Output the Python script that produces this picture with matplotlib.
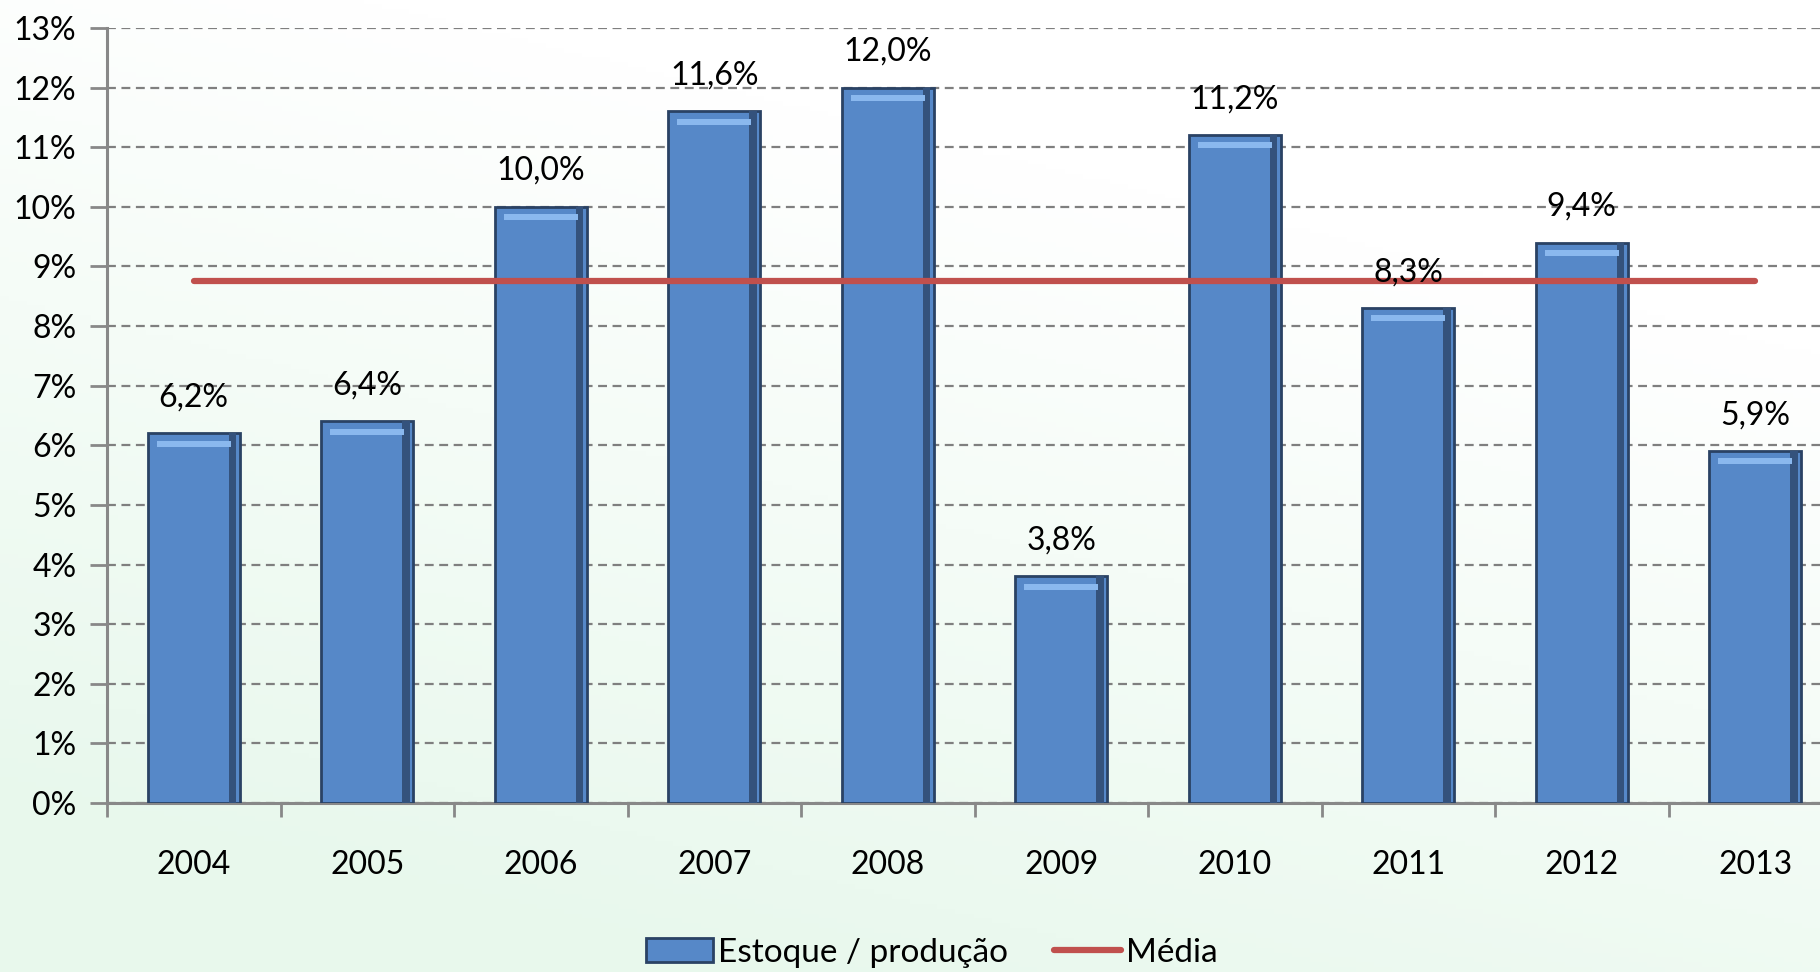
import matplotlib.pyplot as plt
import numpy as np

anos = ['2004', '2005', '2006', '2007', '2008', '2009', '2010', '2011', '2012', '2013']
estoque = [6.2, 6.4, 10.0, 11.6, 12.0, 3.8, 11.2, 8.3, 9.4, 5.9]
media = [8.75] * len(anos)
rotulos = ['6,2%', '6,4%', '10,0%', '11,6%', '12,0%', '3,8%', '11,2%', '8,3%', '9,4%', '5,9%']

plt.rcParams['font.family'] = ['Lato', 'DejaVu Sans']

fig = plt.figure(figsize=(18.2, 9.72), dpi=100)

# soft green background
bg = fig.add_axes([0, 0, 1, 1], zorder=-10)
gy, gx = np.mgrid[0:1:200j, 0:1:200j]
tint = np.clip(1.1 * gy - 0.5 * gx + 0.1, 0, 1) * 0.9
img = np.ones((200, 200, 3))
img[..., 0] = 1 - 0.10 * tint
img[..., 1] = 1 - 0.03 * tint
img[..., 2] = 1 - 0.08 * tint
bg.imshow(img, extent=[0, 1, 0, 1], aspect='auto', origin='upper')
bg.axis('off')

ax = fig.add_axes([107 / 1820, 1 - 803 / 972, 1735 / 1820, (803 - 28) / 972])
ax.patch.set_alpha(0)

x = np.arange(len(anos))
w = 0.53
ax.bar(x, estoque, width=w, color='#5688c8', edgecolor='#2a4264', linewidth=2, zorder=3)
# bevel: darker right side and light band under the top
ax.bar(x + w * 0.42, estoque, width=w * 0.08, color='#34527c', linewidth=0, zorder=4)
ax.bar(x, [0.1] * len(x), bottom=np.array(estoque) - 0.22, width=w * 0.8,
       color='#8ab8ee', linewidth=0, zorder=4)
ax.plot(x, media, color='#c0504d', linewidth=4.5, solid_capstyle='round', zorder=5)

for i, v in enumerate(estoque):
    ax.annotate(rotulos[i], (x[i], v), xytext=(0, 15), textcoords='offset points',
                ha='center', va='bottom', fontsize=23, zorder=6)

ax.set_xlim(-0.5, len(anos) - 0.5)
ax.set_ylim(0, 13)
ax.set_yticks(range(0, 14))
ax.set_yticklabels([f'{i}%' for i in range(0, 14)], fontsize=23)
ax.set_xticks(np.arange(-0.5, len(anos), 1))
ax.set_xticklabels([])
ax.set_xticks(x, minor=True)
ax.set_xticklabels(anos, minor=True, fontsize=23)
ax.tick_params(axis='x', which='minor', length=0, pad=34)
ax.tick_params(axis='x', which='major', length=10, width=2, color='#888888')
ax.tick_params(axis='y', length=12, width=2, color='#888888', pad=10)

ax.grid(axis='y', linestyle=(0, (4, 2.5)), color='#7f7f7f', linewidth=1.6, zorder=0)
for s in ['top', 'right']:
    ax.spines[s].set_visible(False)
for s in ['left', 'bottom']:
    ax.spines[s].set_color('#888888')
    ax.spines[s].set_linewidth(2.2)

h1 = plt.Rectangle((0, 0), 1, 1, facecolor='#5688c8', edgecolor='#2a4264', linewidth=2)
h2, = ax.plot([], [], color='#c0504d', linewidth=4.5, solid_capstyle='round')
fig.legend([h1, h2], ['Estoque / produção', 'Média'], loc='center', bbox_to_anchor=(0.512, 0.02),
           ncol=2, frameon=False, fontsize=24, handlelength=2.0, handleheight=0.7,
           handletextpad=0.15, columnspacing=1.4)

fig.savefig('out.png', dpi=100)
